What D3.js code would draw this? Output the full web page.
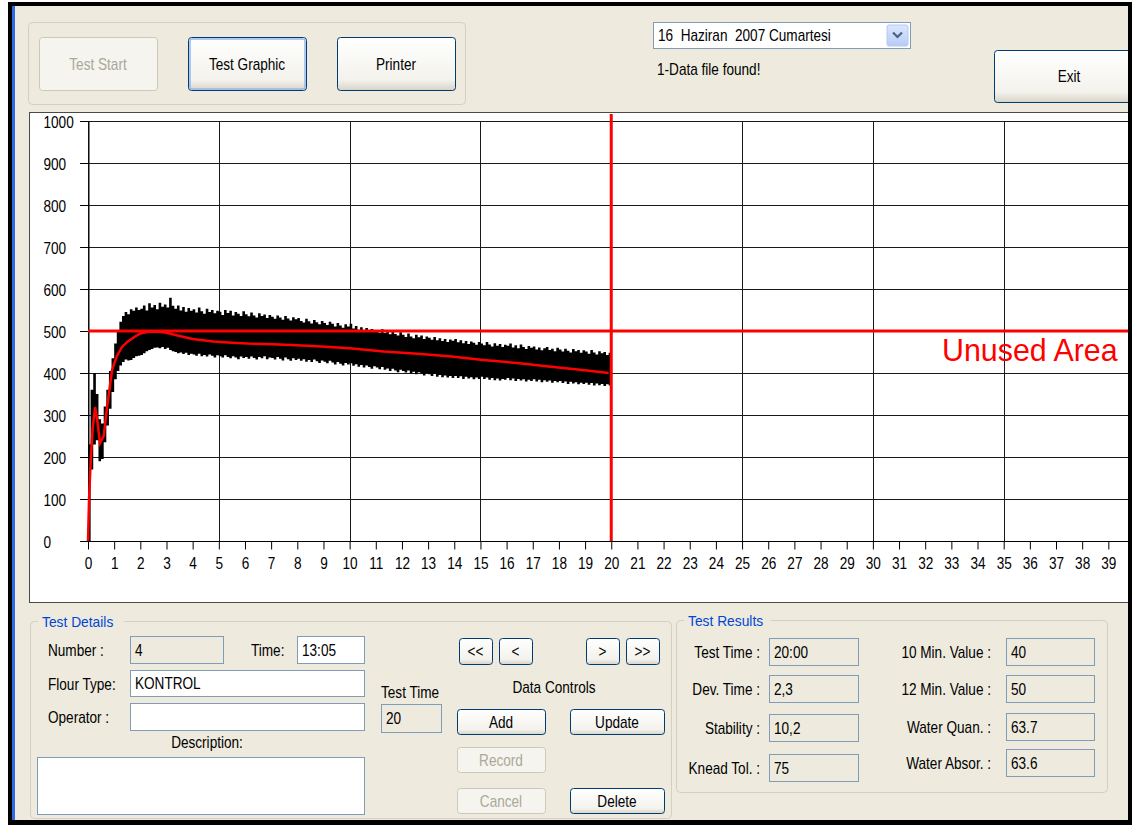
<!DOCTYPE html>
<html>
<head>
<meta charset="utf-8">
<script src="https://d3js.org/d3.v7.min.js"></script>
<style>
  body { margin: 0; background: #ffffff; }
  svg text { font-family: 'Liberation Sans', Arial, sans-serif; }
</style>
<title>Farinograph test graphic</title>
</head>
<body>
<svg id="form" width="1132" height="825"></svg>
<script>
// ---- chart data ----
const yTicks = [0, 100, 200, 300, 400, 500, 600, 700, 800, 900, 1000];
const xTicks = [0, 1, 2, 3, 4, 5, 6, 7, 8, 9, 10, 11, 12, 13, 14, 15, 16, 17, 18, 19, 20,
  21, 22, 23, 24, 25, 26, 27, 28, 29, 30, 31, 32, 33, 34, 35, 36, 37, 38, 39];
const gridMinutes = [0, 5, 10, 15, 20, 25, 30, 35];

// raw signal envelope, one sample each 0.1 min
const sampleTimes = [
  0, 0.1, 0.2, 0.3, 0.4, 0.5, 0.6, 0.7, 0.8, 0.9,
  1, 1.1, 1.2, 1.3, 1.4, 1.5, 1.6, 1.7, 1.8, 1.9,
  2, 2.1, 2.2, 2.3, 2.4, 2.5, 2.6, 2.7, 2.8, 2.9,
  3, 3.1, 3.2, 3.3, 3.4, 3.5, 3.6, 3.7, 3.8, 3.9,
  4, 4.1, 4.2, 4.3, 4.4, 4.5, 4.6, 4.7, 4.8, 4.9,
  5, 5.1, 5.2, 5.3, 5.4, 5.5, 5.6, 5.7, 5.8, 5.9,
  6, 6.1, 6.2, 6.3, 6.4, 6.5, 6.6, 6.7, 6.8, 6.9,
  7, 7.1, 7.2, 7.3, 7.4, 7.5, 7.6, 7.7, 7.8, 7.9,
  8, 8.1, 8.2, 8.3, 8.4, 8.5, 8.6, 8.7, 8.8, 8.9,
  9, 9.1, 9.2, 9.3, 9.4, 9.5, 9.6, 9.7, 9.8, 9.9,
  10, 10.1, 10.2, 10.3, 10.4, 10.5, 10.6, 10.7, 10.8, 10.9,
  11, 11.1, 11.2, 11.3, 11.4, 11.5, 11.6, 11.7, 11.8, 11.9,
  12, 12.1, 12.2, 12.3, 12.4, 12.5, 12.6, 12.7, 12.8, 12.9,
  13, 13.1, 13.2, 13.3, 13.4, 13.5, 13.6, 13.7, 13.8, 13.9,
  14, 14.1, 14.2, 14.3, 14.4, 14.5, 14.6, 14.7, 14.8, 14.9,
  15, 15.1, 15.2, 15.3, 15.4, 15.5, 15.6, 15.7, 15.8, 15.9,
  16, 16.1, 16.2, 16.3, 16.4, 16.5, 16.6, 16.7, 16.8, 16.9,
  17, 17.1, 17.2, 17.3, 17.4, 17.5, 17.6, 17.7, 17.8, 17.9,
  18, 18.1, 18.2, 18.3, 18.4, 18.5, 18.6, 18.7, 18.8, 18.9,
  19, 19.1, 19.2, 19.3, 19.4, 19.5, 19.6, 19.7, 19.8, 19.9,
  20
];
const bandUpper = [
  230, 360, 400, 350, 290, 280, 320, 360, 405, 435,
  470, 500, 522, 536, 545, 540, 552, 548, 556, 550,
  553, 561, 549, 566, 556, 562, 552, 567, 558, 563,
  556, 579, 560, 553, 561, 549, 557, 546, 555, 548,
  552, 544, 556, 547, 541, 553, 545, 550, 542, 548,
  546, 538, 550, 543, 548, 537, 545, 541, 536, 547,
  540, 535, 544, 537, 532, 542, 536, 539, 531, 538,
  534, 529, 537, 532, 527, 536, 530, 525, 533, 528,
  531, 524, 520, 529, 523, 518, 526, 521, 516, 524,
  519, 514, 522, 517, 511, 519, 513, 508, 516, 511,
  517, 506, 512, 503, 509, 501, 507, 498, 505, 500,
  502, 496, 504, 495, 500, 492, 498, 493, 489, 497,
  491, 486, 494, 487, 483, 491, 485, 489, 481, 487,
  484, 479, 486, 478, 483, 476, 481, 474, 480, 477,
  481, 473, 478, 471, 476, 469, 475, 472, 467, 474,
  470, 466, 474, 468, 463, 471, 465, 469, 462, 467,
  465, 470, 461, 466, 459, 468, 462, 457, 464, 460,
  463, 456, 461, 454, 459, 462, 455, 458, 452, 460,
  456, 451, 458, 453, 449, 457, 452, 455, 448, 454,
  451, 446, 455, 449, 444, 452, 447, 450, 443, 448,
  446
];
const bandLower = [
  0, 170, 230, 240, 190, 195, 235, 275, 315, 355,
  385, 405, 418, 426, 432, 430, 431, 436, 440, 441,
  443, 447, 452, 455, 457, 460, 461, 459, 462, 457,
  460, 455, 452, 450, 447, 449, 445, 448, 443, 446,
  444, 441, 446, 440, 443, 439, 444, 441, 437, 442,
  440, 437, 442, 438, 435, 440, 437, 433, 439, 436,
  438, 434, 439, 436, 432, 438, 435, 440, 433, 437,
  436, 432, 438, 434, 430, 437, 433, 429, 435, 431,
  434, 429, 433, 427, 431, 426, 432, 428, 424, 430,
  427, 423, 429, 425, 420, 426, 422, 418, 424, 420,
  423, 417, 421, 415, 419, 413, 418, 414, 410, 416,
  413, 409, 414, 408, 411, 405, 410, 406, 402, 408,
  405, 401, 406, 399, 403, 397, 402, 398, 394, 400,
  397, 393, 398, 391, 395, 390, 394, 389, 393, 388,
  393, 388, 392, 386, 391, 387, 390, 385, 389, 386,
  391, 386, 389, 384, 388, 383, 387, 382, 386, 384,
  388, 383, 387, 381, 386, 382, 385, 380, 384, 381,
  385, 380, 384, 378, 383, 379, 382, 377, 381, 378,
  381, 376, 380, 374, 379, 375, 378, 373, 377, 374,
  377, 372, 376, 370, 375, 371, 374, 369, 373, 370,
  372
];
// smoothed (red) curve
const meanTimes = [0, 0.04, 0.1, 0.18, 0.27, 0.36, 0.46, 0.6, 0.73, 0.92, 1.1, 1.3, 1.5, 1.8,
  2.0, 2.3, 2.7, 3.0, 3.5, 4.0, 4.8, 5.5, 6.1, 7.3, 8.6, 10.0, 11.3, 12.6, 13.9, 15.1, 16.4,
  17.7, 18.9, 19.9];
const meanValues = [0, 100, 186, 270, 319, 285, 233, 250, 319, 407, 440, 462, 474, 487,
  494, 498, 498, 496, 488, 481, 475, 472, 470, 468, 464, 459, 451, 446, 439, 431, 424,
  415, 407, 400];
const limitValue = 500;
const testEndMinute = 20;
const unusedLabel = "Unused Area";

// ---- form texts ----
const topButtons = ["Test Start", "Test Graphic", "Printer"];
const dateText = "16  Haziran  2007 Cumartesi";
const statusText = "1-Data file found!";
const detailValues = { number: "4", time: "13:05", flour: "KONTROL", operator: "", testTime: "20" };
const resultLabelsLeft = ["Test Time :", "Dev. Time :", "Stability :", "Knead Tol. :"];
const resultValuesLeft = ["20:00", "2,3", "10,2", "75"];
const resultLabelsRight = ["10 Min. Value :", "12 Min. Value :", "Water Quan. :", "Water Absor. :"];
const resultValuesRight = ["40", "50", "63.7", "63.6"];

const BG = "#eeebde";
const svg = d3.select("#form");

const defs = svg.append("defs");
const grad = defs.append("linearGradient").attr("id", "btnGrad")
  .attr("x1", 0).attr("y1", 0).attr("x2", 0).attr("y2", 1);
grad.append("stop").attr("offset", "0%").attr("stop-color", "#ffffff");
grad.append("stop").attr("offset", "80%").attr("stop-color", "#f3f2ec");
grad.append("stop").attr("offset", "100%").attr("stop-color", "#d8d3c8");
const comboGrad = defs.append("linearGradient").attr("id", "comboGrad")
  .attr("x1", 0).attr("y1", 0).attr("x2", 0).attr("y2", 1);
comboGrad.append("stop").attr("offset", "0%").attr("stop-color", "#dce7fd");
comboGrad.append("stop").attr("offset", "100%").attr("stop-color", "#b6cbf7");
defs.append("clipPath").attr("id", "plotClip")
  .append("rect").attr("x", 30).attr("y", 113).attr("width", 1098).attr("height", 489);

function addText(parent, x, y, s, opt = {}) {
  return parent.append("text")
    .attr("transform", `translate(${x},${y}) scale(${opt.sx ?? 0.85},1)`)
    .attr("text-anchor", opt.anchor || "start")
    .attr("font-size", opt.size || 16)
    .attr("fill", opt.fill || "#000")
    .style("white-space", "pre")
    .text(s);
}

function button(x, y, w, h, label, state) {
  const g = svg.append("g");
  const disabled = state === "disabled";
  g.append("rect").attr("x", x + 0.5).attr("y", y + 0.5).attr("width", w).attr("height", h)
    .attr("rx", 3)
    .attr("fill", disabled ? "#f5f4ee" : "url(#btnGrad)")
    .attr("stroke", disabled ? "#cbc8bb" : "#003c74");
  if (state === "focus") {
    g.append("rect").attr("x", x + 2).attr("y", y + 2).attr("width", w - 3).attr("height", h - 3)
      .attr("rx", 2).attr("fill", "none").attr("stroke", "#98b8ea").attr("stroke-width", 1.5);
  }
  addText(g, x + w / 2, y + h / 2 + 6, label, { anchor: "middle", fill: disabled ? "#aca899" : "#000" });
}

function textBox(x, y, w, h, value, white) {
  svg.append("rect").attr("x", x + 0.5).attr("y", y + 0.5).attr("width", w).attr("height", h)
    .attr("fill", white ? "#ffffff" : BG).attr("stroke", "#7f9db9");
  if (value) addText(svg, x + 5, y + h / 2 + 6, value);
}

function groupBox(x, y, w, h, title) {
  svg.append("rect").attr("x", x + 0.5).attr("y", y + 0.5).attr("width", w).attr("height", h)
    .attr("rx", 4).attr("fill", "none").attr("stroke", "#d3d0c0");
  if (title) {
    svg.append("rect").attr("x", x + 8).attr("y", y - 9).attr("width", title.length * 7.2)
      .attr("height", 18).attr("fill", BG);
    addText(svg, x + 12, y + 6, title, { size: 15, sx: 0.92, fill: "#0046d5" });
  }
}

// form background
svg.append("rect").attr("width", 1132).attr("height", 825).attr("fill", "#ffffff");
svg.append("rect").attr("x", 12).attr("y", 6).attr("width", 1116).attr("height", 814).attr("fill", BG);

// ---- top bar ----
groupBox(28, 22, 437, 82);
button(39, 37, 118, 53, topButtons[0], "disabled");
button(188, 37, 118, 53, topButtons[1], "focus");
button(337, 37, 118, 53, topButtons[2], "normal");

svg.append("rect").attr("x", 653.5).attr("y", 22.5).attr("width", 257).attr("height", 26)
  .attr("fill", "#ffffff").attr("stroke", "#7f9db9");
svg.append("rect").attr("x", 887).attr("y", 25).attr("width", 21).attr("height", 21).attr("rx", 2)
  .attr("fill", "url(#comboGrad)").attr("stroke", "#b4c8f4");
svg.append("polyline").attr("points", "893,32.5 897.5,37 902,32.5")
  .attr("fill", "none").attr("stroke", "#4d6185").attr("stroke-width", 2.2);
addText(svg, 658, 41, dateText);
addText(svg, 657, 75, statusText);
button(994, 50, 150, 52, "Exit", "normal");

// ---- chart ----
const xScale = d3.scaleLinear().domain([0, 40]).range([88, 1134.5]);
const yScale = d3.scaleLinear().domain([0, 1000]).range([541, 121]);

svg.append("rect").attr("x", 29.5).attr("y", 112.5).attr("width", 1110).attr("height", 490)
  .attr("fill", "#ffffff").attr("stroke", "#4a4a4a");

const plot = svg.append("g").attr("clip-path", "url(#plotClip)");

plot.append("g").selectAll("line").data(yTicks).join("line")
  .attr("x1", 80).attr("x2", 1130)
  .attr("y1", d => Math.round(yScale(d)) + 0.5).attr("y2", d => Math.round(yScale(d)) + 0.5)
  .attr("stroke", "#1a1a1a");
plot.append("g").selectAll("line").data(gridMinutes).join("line")
  .attr("x1", d => Math.round(xScale(d)) + 0.5).attr("x2", d => Math.round(xScale(d)) + 0.5)
  .attr("y1", yScale(1000)).attr("y2", yScale(0))
  .attr("stroke", "#1a1a1a");

const yAxis = plot.append("g").attr("transform", "translate(88.5,0)")
  .attr("color", "#000")
  .call(d3.axisLeft(yScale).tickValues(yTicks).tickSize(8).tickSizeOuter(0).tickFormat(d3.format("d")));
yAxis.selectAll("text")
  .attr("x", 0).attr("dy", null).attr("y", 6)
  .attr("text-anchor", "start")
  .attr("font-size", 16)
  .attr("font-family", "'Liberation Sans', Arial, sans-serif")
  .attr("transform", "translate(-45,0) scale(0.85,1)");

const xAxis = plot.append("g").attr("transform", "translate(0,541.5)")
  .attr("color", "#000")
  .call(d3.axisBottom(xScale).tickValues(xTicks).tickSize(8).tickSizeOuter(0).tickFormat(d3.format("d")));
xAxis.select(".domain").attr("d", "M88,0H1130");
xAxis.selectAll("text")
  .attr("dy", null).attr("y", 28)
  .attr("font-size", 16)
  .attr("font-family", "'Liberation Sans', Arial, sans-serif")
  .attr("transform", "scale(0.85,1)");

const bandRows = sampleTimes.map((t, i) => ({ t: t, hi: bandUpper[i], lo: bandLower[i] }));
plot.append("path").datum(bandRows)
  .attr("fill", "#000")
  .attr("d", d3.area().curve(d3.curveStepAfter)
    .x(d => xScale(d.t)).y0(d => yScale(d.lo)).y1(d => yScale(d.hi)));

plot.append("line")
  .attr("x1", xScale(0)).attr("x2", 1130)
  .attr("y1", yScale(limitValue)).attr("y2", yScale(limitValue))
  .attr("stroke", "#ff0000").attr("stroke-width", 3);
plot.append("line")
  .attr("x1", xScale(testEndMinute)).attr("x2", xScale(testEndMinute))
  .attr("y1", 114).attr("y2", yScale(0))
  .attr("stroke", "#ff0000").attr("stroke-width", 3);

const meanRows = meanTimes.map((t, i) => ({ t: t, v: meanValues[i] }));
plot.append("path").datum(meanRows)
  .attr("fill", "none").attr("stroke", "#ff0000").attr("stroke-width", 2.5)
  .attr("d", d3.line().x(d => xScale(d.t)).y(d => yScale(d.v)));

addText(svg, 942, 361, unusedLabel, { size: 31, sx: 0.98, fill: "#ff0000" });

// ---- test details ----
groupBox(30, 621, 641, 197, "Test Details");
addText(svg, 48, 656, "Number :");
textBox(130, 636, 93, 27, detailValues.number, false);
addText(svg, 251, 656, "Time:");
textBox(297, 636, 67, 27, detailValues.time, true);
addText(svg, 48, 690, "Flour Type:");
textBox(130, 670, 234, 26, detailValues.flour, true);
addText(svg, 48, 723, "Operator :");
textBox(130, 703, 234, 27, detailValues.operator, true);
addText(svg, 207, 748, "Description:", { anchor: "middle" });
textBox(37, 757, 327, 57, "", true);
addText(svg, 381, 698, "Test Time");
textBox(381, 704, 60, 28, detailValues.testTime, false);

button(459, 638, 33, 26, "<<", "normal");
button(499, 638, 33, 26, "<", "normal");
button(586, 638, 33, 26, ">", "normal");
button(626, 638, 33, 26, ">>", "normal");
addText(svg, 554, 693, "Data Controls", { anchor: "middle" });
button(457, 709, 88, 25, "Add", "normal");
button(570, 709, 94, 25, "Update", "normal");
button(457, 747, 88, 25, "Record", "disabled");
button(457, 788, 88, 25, "Cancel", "disabled");
button(570, 788, 94, 25, "Delete", "normal");

// ---- test results ----
groupBox(676, 620, 431, 172, "Test Results");
const leftBoxY = [638, 675, 714, 754];
const rightBoxY = [638, 675, 713, 749];
resultLabelsLeft.forEach((s, i) => {
  addText(svg, 760, leftBoxY[i] + 20, s, { anchor: "end" });
  textBox(769, leftBoxY[i], 89, 27, resultValuesLeft[i], false);
});
resultLabelsRight.forEach((s, i) => {
  addText(svg, 991, rightBoxY[i] + 20, s, { anchor: "end" });
  textBox(1006, rightBoxY[i], 88, 27, resultValuesRight[i], false);
});

// ---- window frame ----
svg.append("path")
  .attr("fill", "#000").attr("fill-rule", "evenodd")
  .attr("d", "M8,2H1132V825H8Z M12,6V820H1128V6Z");
svg.append("rect").attr("x", 12).attr("y", 6).attr("width", 3).attr("height", 814).attr("fill", "#2f6be0");
</script>
</body>
</html>
